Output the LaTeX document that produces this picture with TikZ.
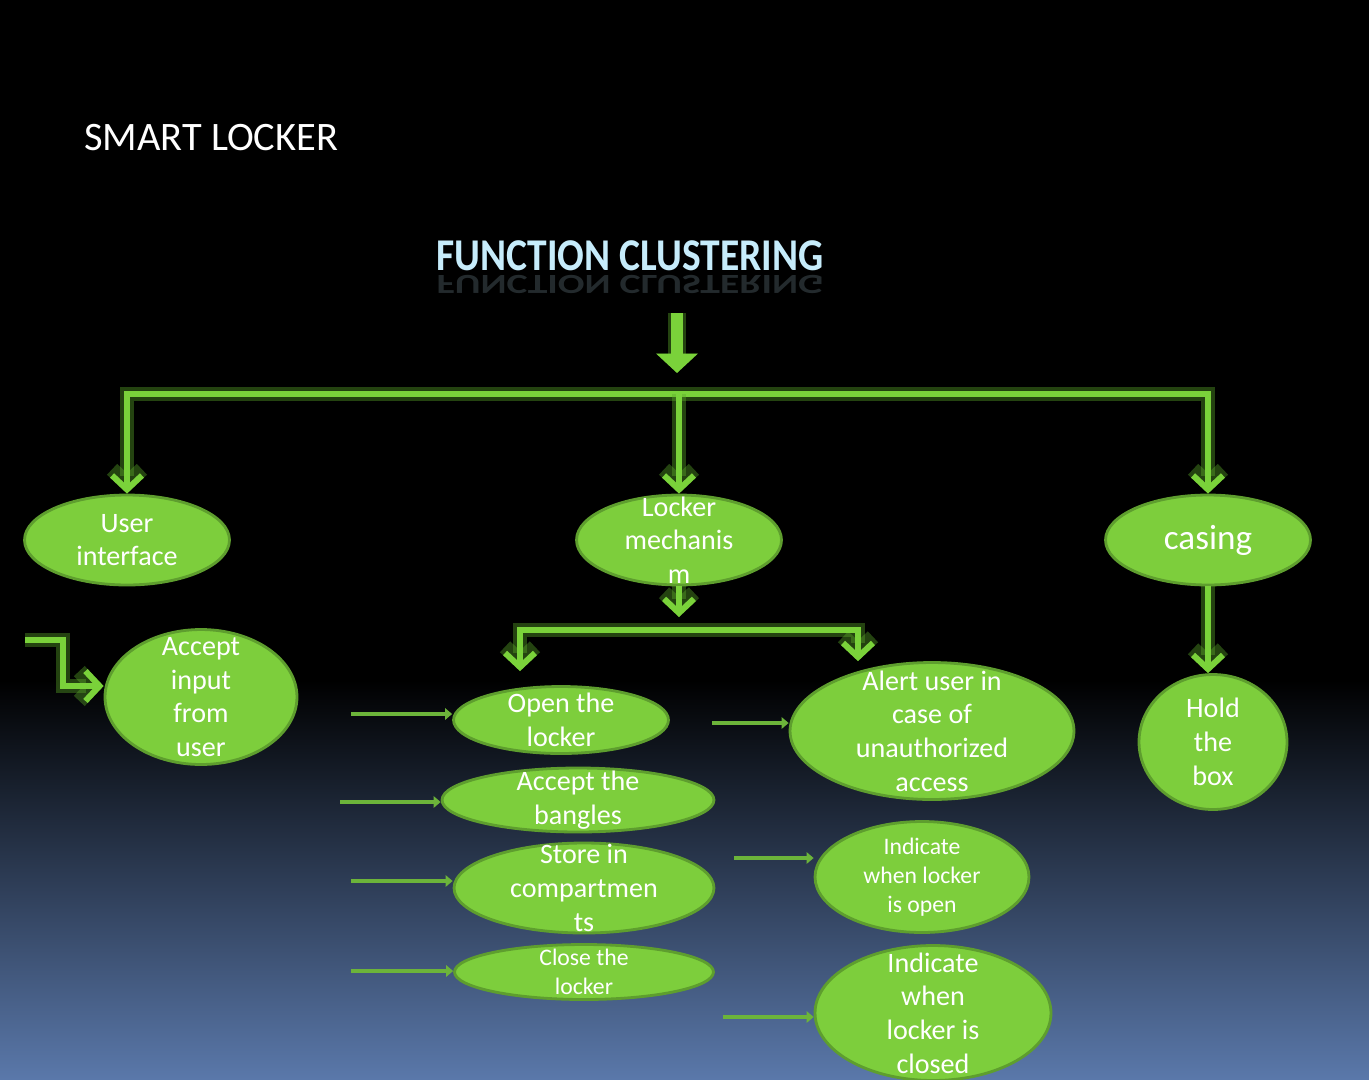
\documentclass[tikz,border=0pt]{standalone}
\usepackage{fontspec}
\setmainfont{Carlito}
\usetikzlibrary{arrows.meta,shapes.geometric}

\definecolor{leaf}{HTML}{7DCE3C}
\definecolor{leafedge}{HTML}{5E9E2E}
\definecolor{wire}{HTML}{7AD23A}
\definecolor{halo}{HTML}{5BA82A}
\definecolor{feedgreen}{HTML}{6CB43A}
\definecolor{sky}{HTML}{C6ECFB}
\definecolor{dusk}{HTML}{5A78AA}

\tikzset{
    chevron/.tip={Straight Barb[length=8pt,width=17pt]},
    blob/.style 2 args={ellipse, draw=leafedge, line width=1.6pt, fill=leaf,
        minimum width=#1, minimum height=#2, inner sep=0pt},
    txt/.style={text=white, align=center, font=\fontsize{16}{19.2}\selectfont},
    small/.style={text=white, align=center, font=\fontsize{13.5}{16.4}\selectfont},
    link/.style={draw=wire, line width=3.4pt,
        preaction={draw=halo, line width=8.5pt, opacity=0.4}},
    bigarrow/.style={draw=wire, line width=6.8pt, -{Triangle[length=11pt,width=23pt]},
        preaction={draw=halo, line width=10pt, opacity=0.4}},
    feed/.style={draw=feedgreen, line width=2.6pt, -{Triangle[length=4pt,width=6.5pt]}}
}

\begin{document}
\begin{tikzpicture}[x=0.02cm, y=-0.02cm]
    % Sfondo
    \useasboundingbox (0,0) rectangle (1369,1079);
    \fill[black] (0,0) rectangle (1369,1079);
    \shade[top color=black, bottom color=dusk] (0,680) rectangle (1369,1079);

    % Titoli
    \node[text=white, anchor=west, font=\fontsize{23}{28}\selectfont] (smart) at (78,138) {SMART LOCKER};
    \node[text=sky, font=\bfseries\fontsize{22.5}{27}\selectfont, yscale=1.15, transform shape] (fc) at (630,256) {FUNCTION CLUSTERING};
    \node[text=sky, opacity=0.18, yscale=-0.7, transform shape, font=\bfseries\fontsize{22.5}{27}\selectfont] (fcmirror) at (630,284) {FUNCTION CLUSTERING};

    % Primo livello
    \node[blob={4.1cm}{1.8cm}, label={[txt]center:User\\interface}] (ui) at (127,540) {};
    \node[blob={4.1cm}{1.8cm}, label={[txt]center:Locker\\mechanis\\m}] (lock) at (679,540) {};
    \node[blob={4.1cm}{1.8cm}, label={[txt, font=\fontsize{20}{24}\selectfont]center:casing}] (casing) at (1208,540) {};

    % Secondo livello
    \node[blob={3.84cm}{2.7cm}, label={[txt]center:Accept\\input\\from\\user}] (input) at (201,697) {};
    \node[blob={4.3cm}{1.34cm}, label={[txt]center:Open the\\locker}] (open) at (561,720) {};
    \node[blob={5.44cm}{1.28cm}, label={[txt]center:Accept the\\bangles}] (bangles) at (578,800) {};
    \node[blob={5.2cm}{1.8cm}, label={[txt]center:Store in\\compartmen\\ts}] (store) at (584,888) {};
    \node[blob={5.18cm}{1.1cm}, label={[small]center:Close the\\locker}] (close) at (584,972) {};
    \node[blob={5.68cm}{2.74cm}, label={[txt]center:Alert user in\\case of\\unauthorized\\access}] (alert) at (932,731) {};
    \node[blob={4.28cm}{2.22cm}, label={[small]center:Indicate\\when locker\\is open}] (indopen) at (922,877) {};
    \node[blob={4.72cm}{2.7cm}, label={[txt]center:Indicate\\when\\locker is\\closed}] (indclosed) at (933,1013) {};
    \node[blob={2.96cm}{2.7cm}, label={[txt]center:Hold\\the\\box}] (hold) at (1213,742) {};

    % Coordinate
    \coordinate (drop) at (677,313);
    \coordinate (hub) at (677,373);
    \coordinate (bar) at (679,394);
    \coordinate (fork) at (679,630);
    \coordinate (forktip) at (679,617);
    \coordinate (subL) at (520,630);
    \coordinate (subR) at (858,630);
    \coordinate (inUser) at (25,640);
    \coordinate (bend) at (63,686);

    % Frecce principali
    \draw[bigarrow] (drop) -- (hub);
    \draw[link, chevron-chevron] (ui.north) |- (bar) -| (casing.north);
    \draw[link, -chevron] (bar) -- (lock.north);
    \draw[link, -chevron] (lock.south) -- (forktip);
    \draw[link, chevron-chevron, shorten <=0.28cm] (subL |- open.north) |- (fork) -| (subR |- alert.north);
    \draw[link, -chevron] (casing.south) -- (casing.south |- hold.north);
    \draw[link, -chevron] (inUser) -| (bend) -- (bend -| input.west);

    % Frecce sottili
    \foreach \n/\x/\y in {open/351/714, bangles/340/802, store/351/881, close/351/971,
                          alert/712/723, indopen/734/858, indclosed/723/1017} {
        \coordinate (t\n) at (\x,\y);
        \draw[feed] (t\n) -- (t\n -| \n.west);
    }
\end{tikzpicture}
\end{document}
